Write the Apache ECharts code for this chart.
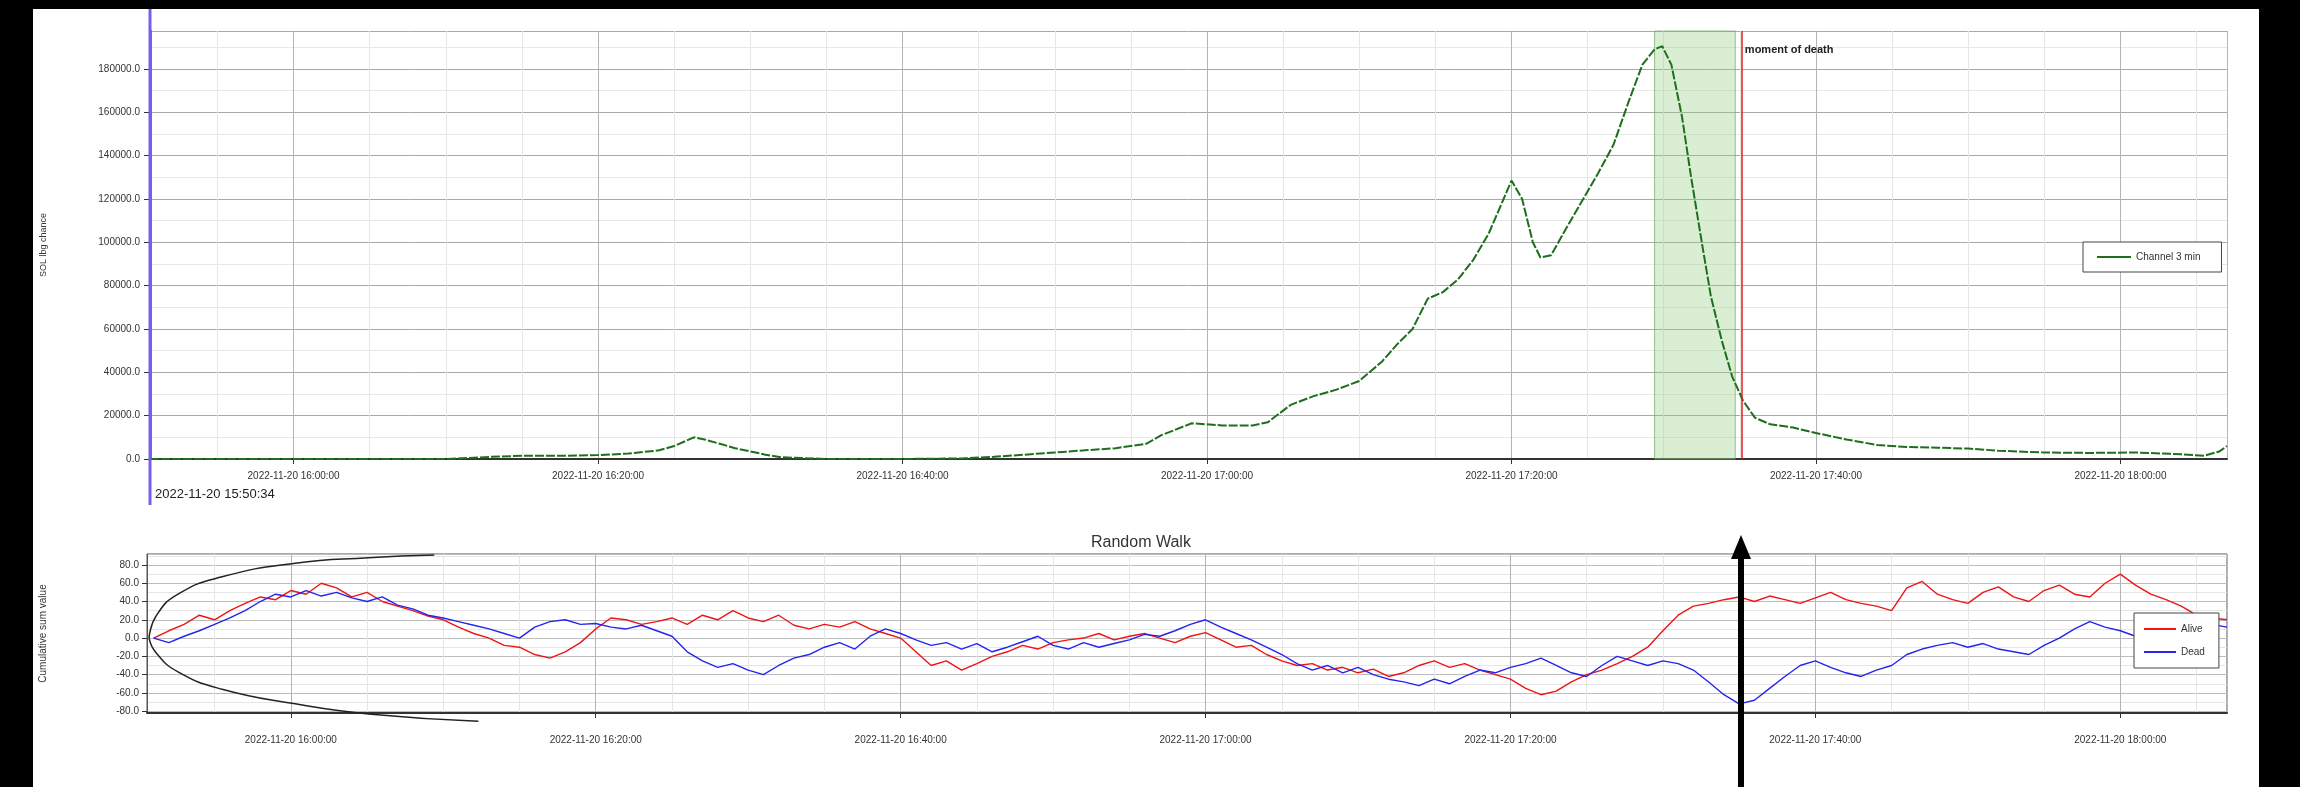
<!DOCTYPE html>
<html><head><meta charset="utf-8">
<script src="https://cdn.jsdelivr.net/npm/echarts@6/dist/echarts.min.js"></script>
<style>
html,body{margin:0;padding:0;background:#000;width:2300px;height:787px;overflow:hidden}
#c{position:absolute;left:33px;top:9px;width:2226px;height:778px;background:#fff}
</style></head><body><div id="c"></div>
<script>
// ---- data (times in minutes relative to 2022-11-20 16:00:00) ----
const dateLabel = '2022-11-20';
const startMin = -9.433;   // 15:50:34
const endMin = 127;
const channelName = 'Channel 3 min';
const channelT = [-9.433,-5,0,5,10,13,15,18,20,22,24,25,26.3,27,28,29,30,31,32,35,40,44,46,48,50,52,54,56,57,59,61,63,64,65.5,67,68.5,70,71.5,72.5,73.5,74.5,75.5,76.5,77.5,78.5,79.3,80,80.7,81.4,81.9,82.6,83.4,84.3,85.7,86.7,87.7,88.6,89.4,89.9,90.5,91.2,91.8,92.5,93.1,93.8,94.5,95.2,96,97,98.5,100,102,104,106,108,110,112,115,118,121,124,125.5,126.5,127];
const channelV = [0,0,0,0,0,1000,1500,1500,1800,2500,4000,6000,10000,9000,7000,5000,3500,2000,800,0,0,300,1000,2000,3000,4000,5000,7000,11000,16500,15500,15500,17000,25000,29000,32000,36000,45000,53000,60000,74000,77000,83000,92000,104000,117000,128500,120000,100000,93000,94000,104000,115000,132000,145000,165000,182000,189000,190500,182000,158000,130000,100000,75000,55000,38000,27000,19000,16000,14500,12000,9000,6500,5500,5200,4800,3800,3000,2800,3000,2200,1500,3500,6000];
const shadeStart = 89.4, shadeEnd = 94.7, deathT = 95.1;
const deathLabel = 'moment of death';

const walkT = [-9,-8,-7,-6,-5,-4,-3,-2,-1,0,1,2,3,4,5,6,7,8,9,10,11,12,13,14,15,16,17,18,19,20,21,22,23,24,25,26,27,28,29,30,31,32,33,34,35,36,37,38,39,40,41,42,43,44,45,46,47,48,49,50,51,52,53,54,55,56,57,58,59,60,61,62,63,64,65,66,67,68,69,70,71,72,73,74,75,76,77,78,79,80,81,82,83,84,85,86,87,88,89,90,91,92,93,94,95,96,97,98,99,100,101,102,103,104,105,106,107,108,109,110,111,112,113,114,115,116,117,118,119,120,121,122,123,124,125,126,127];
const aliveV = [0,8,15,25,20,30,38,45,42,52, 48,60,55,45,50,40,35,30,24,20, 12,5,0,-8,-10,-18,-22,-15,-5,10, 22,20,15,18,22,15,25,20,30,22, 18,25,14,10,15,12,18,10,5,0, -15,-30,-25,-35,-28,-20,-15,-8,-12,-5, -2,0,5,-2,2,5,0,-5,2,6, -2,-10,-8,-18,-25,-30,-28,-35,-32,-38, -34,-42,-38,-30,-25,-32,-28,-35,-40,-45, -55,-62,-58,-48,-40,-35,-28,-20,-10,8, 25,35,38,42,45,40,46,42,38,44, 50,42,38,35,30,55,62,48,42,38, 50,56,45,40,52,58,48,45,60,70, 58,48,42,35,25,22,20];
const deadV = [0,-5,2,8,15,22,30,40,48,45, 52,46,50,44,40,45,36,32,25,22, 18,14,10,5,0,12,18,20,15,16, 12,10,14,8,2,-15,-25,-32,-28,-35, -40,-30,-22,-18,-10,-5,-12,2,10,5, -2,-8,-5,-12,-6,-15,-10,-4,2,-8, -12,-5,-10,-6,-2,4,2,8,15,20, 12,5,-2,-10,-18,-28,-35,-30,-38,-32, -40,-45,-48,-52,-45,-50,-42,-35,-38,-32, -28,-22,-30,-38,-42,-30,-20,-25,-30,-25, -28,-35,-48,-62,-72,-68,-55,-42,-30,-25, -32,-38,-42,-35,-30,-18,-12,-8,-5,-10, -6,-12,-15,-18,-8,0,10,18,12,8, 2,-5,0,5,10,15,12];
const upperEnvT = [-9.3,-8.84,-7.4,-4.51,0.29,5.09,9.41];
const upperEnvV = [0,24,48,67,82,88,91];
const lowerEnvT = [-9.3,-8.84,-7.4,-4.51,0.29,5.09,12.3];
const lowerEnvV = [0,-16,-37,-56,-72,-83,-91];

// ---- helpers ----
const zip = (a,b)=>{const n=Math.min(a.length,b.length),r=[];for(let i=0;i<n;i++)r.push([a[i],b[i]]);return r;};
const p2 = n=>String(n).padStart(2,'0');
function fmtTime(m){const s=Math.round((16*60+m)*60);return dateLabel+' '+p2(Math.floor(s/3600))+':'+p2(Math.floor((s%3600)/60))+':'+p2(s%60);}
const FONT='Liberation Sans';
const lab = {fontSize:10,color:'#333',fontFamily:FONT};

function xAx(gi, margin){
  return {type:'value',gridIndex:gi,min:startMin,max:endMin,splitNumber:7,
    axisLine:{show:true,onZero:false,lineStyle:{color:'#333',width:2}},
    axisTick:{show:true,length:5,lineStyle:{color:'#333'}},
    axisLabel:Object.assign({formatter:fmtTime,margin:margin,showMinLabel:false,showMaxLabel:false},lab),
    splitLine:{show:true,lineStyle:{color:'#b4b4b4'}},
    minorTick:{show:false,splitNumber:4},
    minorSplitLine:{show:true,lineStyle:{color:'#e6e6e6'}}};
}

const chart = echarts.init(document.getElementById('c'));
chart.setOption({
  animation:false,
  backgroundColor:'#fff',
  title:{text:'Random Walk',left:1053,top:521,textStyle:{fontSize:16,fontWeight:'normal',color:'#333',fontFamily:FONT}},
  grid:[
    {left:117,right:32,top:22,bottom:328,outerBoundsMode:'none',containLabel:false},
    {left:114,right:32,top:545,bottom:74,outerBoundsMode:'none',containLabel:false,show:true,borderColor:'#555',borderWidth:1}
  ],
  legend:[
    {data:[channelName],left:2050,top:233,icon:'rect',itemWidth:34,itemHeight:2,padding:[10,21,10,14],borderColor:'#444',borderWidth:1,backgroundColor:'#fff',textStyle:lab},
    {data:['Alive','Dead'],left:2101,top:604,orient:'vertical',icon:'rect',itemWidth:32,itemHeight:2,itemGap:13,padding:[11,14,11,10],borderColor:'#444',borderWidth:1,backgroundColor:'#fff',textStyle:lab}
  ],
  xAxis:[xAx(0,12),xAx(1,22)],
  yAxis:[
    {type:'value',gridIndex:0,min:0,max:197500,splitNumber:10,
     name:'SOL lbg chance',nameLocation:'middle',nameGap:102,nameTextStyle:{fontSize:9,color:'#333',fontFamily:FONT},
     axisLine:{show:true,onZero:false,lineStyle:{color:'#7b5cf0',width:3}},
     axisTick:{show:true,length:6,lineStyle:{color:'#333'}},
     axisLabel:Object.assign({formatter:v=>v.toFixed(1),margin:10,showMaxLabel:false},lab),
     splitLine:{show:true,lineStyle:{color:'#a8a8a8'}},
     minorTick:{show:false,splitNumber:2},
     minorSplitLine:{show:true,lineStyle:{color:'#e8e8e8'}}},
    {type:'value',gridIndex:1,min:-82,max:92,splitNumber:9,
     name:'Cumulative sum value',nameLocation:'middle',nameGap:99,nameTextStyle:lab,
     axisLine:{show:true,onZero:false,lineStyle:{color:'#555'}},
     axisTick:{show:true,length:5,lineStyle:{color:'#333'}},
     axisLabel:Object.assign({formatter:v=>v.toFixed(1),margin:8,showMinLabel:false,showMaxLabel:false},lab),
     splitLine:{show:true,lineStyle:{color:'#bdbdbd'}},
     minorTick:{show:false,splitNumber:2},
     minorSplitLine:{show:true,lineStyle:{color:'#e6e6e6'}}}
  ],
  series:[
    {name:channelName,type:'line',xAxisIndex:0,yAxisIndex:0,data:zip(channelT,channelV),showSymbol:false,
     lineStyle:{color:'#1d6e1d',width:2,type:[9,2]},itemStyle:{color:'#1d6e1d'},
     markArea:{silent:true,itemStyle:{color:'rgba(150,205,130,0.35)',borderColor:'rgba(110,170,95,0.7)',borderWidth:1},data:[[{xAxis:shadeStart},{xAxis:shadeEnd}]]},
     markLine:{silent:true,symbol:'none',label:{show:false},lineStyle:{color:'#e02020',width:1.5,type:'solid'},data:[{xAxis:deathT}]},
     markPoint:{silent:true,symbol:'rect',symbolSize:1,itemStyle:{color:'rgba(0,0,0,0)'},
       label:{show:true,position:'right',distance:3,formatter:deathLabel,fontSize:11,fontWeight:'bold',color:'#222',fontFamily:FONT},
       data:[{coord:[deathT,188800]}]}},
    {name:'Alive',type:'line',xAxisIndex:1,yAxisIndex:1,data:zip(walkT,aliveV),showSymbol:false,lineStyle:{color:'#ee1515',width:1.4},itemStyle:{color:'#ee1515'}},
    {name:'Dead',type:'line',xAxisIndex:1,yAxisIndex:1,data:zip(walkT,deadV),showSymbol:false,lineStyle:{color:'#2525ee',width:1.4},itemStyle:{color:'#2525ee'}},
    {name:'upper',type:'line',xAxisIndex:1,yAxisIndex:1,data:zip(upperEnvT,upperEnvV),showSymbol:false,smooth:true,clip:false,silent:true,lineStyle:{color:'#222',width:1.5}},
    {name:'lower',type:'line',xAxisIndex:1,yAxisIndex:1,data:zip(lowerEnvT,lowerEnvV),showSymbol:false,smooth:true,clip:false,silent:true,lineStyle:{color:'#222',width:1.5}}
  ],
  graphic:[
    {type:'line',shape:{x1:117,y1:0,x2:117,y2:496},style:{stroke:'#7b5cf0',lineWidth:3},z:100},
    {type:'text',left:122,top:479,style:{text:fmtTime(startMin),fontSize:13,fill:'#222',fontFamily:FONT},z:100},
    {type:'rect',shape:{x:1705,y:546,width:6,height:240},style:{fill:'#000'},z:100},
    {type:'polygon',shape:{points:[[1708,526],[1698,550],[1718,550]]},style:{fill:'#000'},z:100}
  ]
});
</script></body></html>
